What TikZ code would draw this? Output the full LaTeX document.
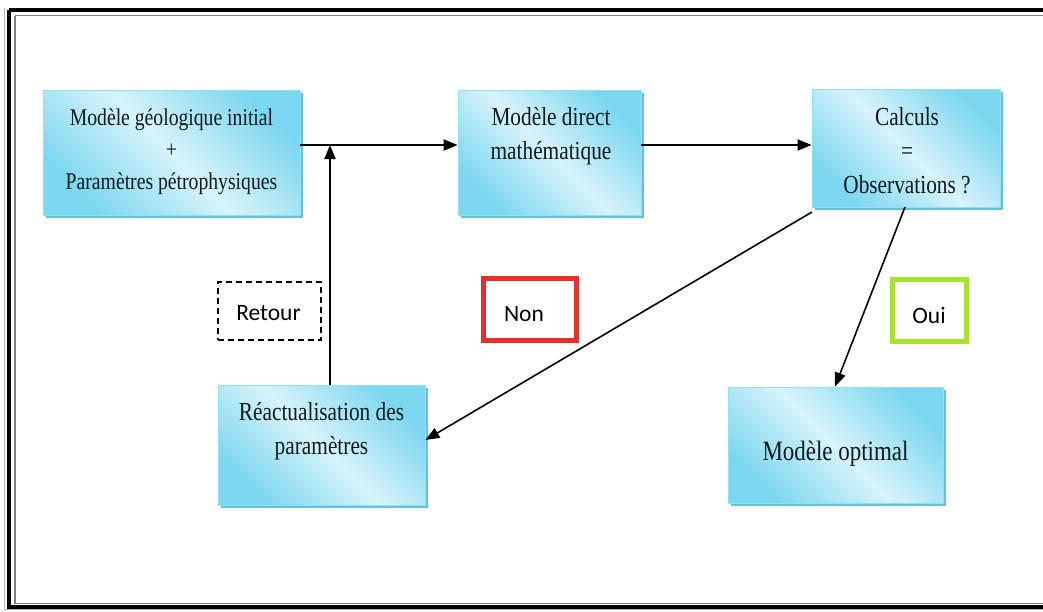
\documentclass[tikz,border=0pt]{standalone}
\usepackage{fontspec}
\usetikzlibrary{arrows.meta,shadows}
\newfontfamily\boxfont[FakeStretch=0.82]{Liberation Serif}
\newfontfamily\lblfont{Carlito}
\definecolor{cyandark}{HTML}{7BD6EF}
\definecolor{cyanlight}{HTML}{D8F3FB}
\definecolor{cyanedge}{HTML}{92E0F3}
\definecolor{cyanshadow}{HTML}{5EC3DF}
\definecolor{txt}{HTML}{0E1A1C}
\definecolor{nonred}{HTML}{E8302A}
\definecolor{ouigreen}{HTML}{A6E22E}
\tikzset{
  flowbox/.style={draw=cyanedge, line width=0.8pt, rectangle, inner sep=0pt,
    top color=cyandark, bottom color=cyandark, middle color=cyanlight, shading angle=-45,
    drop shadow={shadow xshift=3pt, shadow yshift=-3pt, fill=cyanshadow, opacity=1}},
  boxtext/.style={text=txt, align=center, inner sep=0pt, font=\boxfont\fontsize{26}{34}\selectfont},
  lbl/.style={rectangle, inner sep=0pt, font=\lblfont\fontsize{23}{28}\selectfont, text=black},
  lbltext/.style={inner sep=0pt, font=\lblfont\fontsize{23.5}{28}\selectfont, text=black},
  arr/.style={line width=2pt, -{Triangle[length=14pt,width=11pt]}},
  darr/.style={line width=1.6pt, -{Triangle[length=14pt,width=11pt]}}
}
\begin{document}
\begin{tikzpicture}[x=1pt,y=-1pt]
\useasboundingbox (0,0) rectangle (1043,611);
\fill[white] (0,0) rectangle (1043,611);
% frame
\draw[line width=4pt, black] (9,10) -- (1060,10);
\draw[line width=4pt, black] (9,10) -- (9,606.5) -- (1060,606.5);
\draw[line width=1.2pt, gray] (15,15.5) -- (1060,15.5);
\draw[line width=1.2pt, gray] (15,15.5) -- (15,603.5) -- (1060,603.5);
\draw[line width=1pt, gray!60] (4,8) -- (4,609.5) -- (1060,609.5);

% boxes
\node[flowbox, minimum width=257pt, minimum height=125pt] (b1) at (171.5,152.5) {};
\node[boxtext, font=\boxfont\fontsize{24}{32}\selectfont] (b1t) at (171.5,152)
  {Modèle géologique initial\\+\\Paramètres pétrophysiques};
\node[flowbox, minimum width=183pt, minimum height=125pt] (b2) at (549.5,152.5) {};
\node[boxtext] (b2t) at (551,136)
  {Modèle direct\\mathématique};
\node[flowbox, minimum width=188pt, minimum height=118pt] (b3) at (906,148) {};
\node[boxtext] (b3t) at (907,151)
  {Calculs\\=\\Observations ?};
\node[flowbox, minimum width=207pt, minimum height=120pt] (b4) at (321.5,445) {};
\node[boxtext] (b4t) at (321.5,431)
  {Réactualisation des\\paramètres};
\node[flowbox, minimum width=215pt, minimum height=116pt] (b5) at (835.5,445) {};
\node[boxtext, font=\boxfont\fontsize{28}{34}\selectfont] (b5t) at (835.5,454)
  {Modèle optimal};

% labels
\node[lbl, draw=black, dashed, line width=1.5pt, dash pattern=on 6pt off 4pt,
  minimum width=103pt, minimum height=58pt] (retour) at (269.5,311) {};
\node[lbltext] (retourt) at (268.5,313) {Retour};
\node[lbl, draw=nonred, line width=5pt, minimum width=93pt, minimum height=62pt] (non) at (529.5,309.5) {};
\node[lbltext] (nont) at (524,314) {Non};
\node[lbl, draw=ouigreen, line width=5pt, minimum width=74pt, minimum height=62pt] (oui) at (929.5,310) {};
\node[lbltext] (ouit) at (929,315) {Oui};

% connectors
\coordinate (j) at (330,145);
\draw[arr] (b1.east |- j) -- (b2.west |- j);
\draw[arr] (b2.east |- j) -- (b3.west |- j);
\draw[arr] (b4.north -| j) -- (j);
\coordinate (s1) at (812,212);
\draw[darr] (s1) -- (b4.east |- 0,440);
\coordinate (s2) at (905,207);
\draw[darr] (s2) -- (b5.north -| 835,0);
\end{tikzpicture}
\end{document}
